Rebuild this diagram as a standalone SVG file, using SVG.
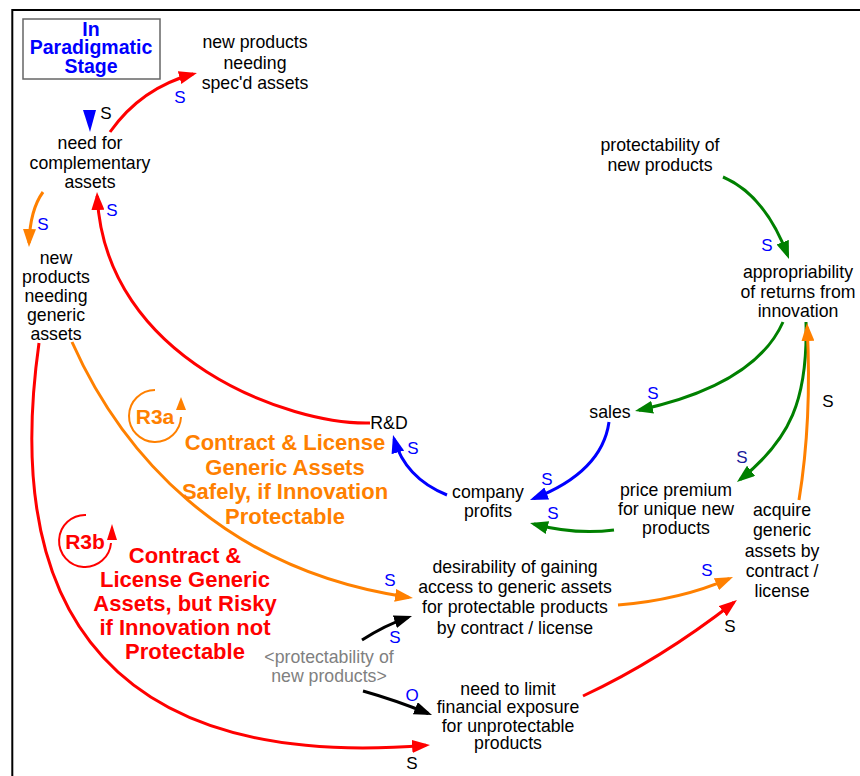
<svg xmlns="http://www.w3.org/2000/svg" width="860" height="776" viewBox="0 0 860 776">
  <style>
    text { font-family: "Liberation Sans", Arial, sans-serif; text-anchor: middle; }
    .lbl { font-size: 17.7px; fill: #000; }
    .ghost { font-size: 17.7px; fill: #808080; }
    .pol { font-size: 17px; }
    .blue { fill: #0000ff; }
    .blk { fill: #000; }
    .title { font-size: 19.5px; font-weight: bold; fill: #0000ff; }
    .loopname { font-size: 21px; font-weight: bold; }
    .loopdesc { font-size: 22px; font-weight: bold; }
    .c { fill: none; stroke-width: 3; }
    .red { stroke: #ff0000; }
    .org { stroke: #ff8000; }
    .grn { stroke: #008000; }
    .blu { stroke: #0000ff; }
    .bk { stroke: #000; }
  </style>
  <defs>
    <marker id="ah-red" viewBox="0 0 18 13" refX="14" refY="6.5" markerWidth="18" markerHeight="13" markerUnits="userSpaceOnUse" orient="auto"><path d="M0,0 L18,6.5 L0,13 z" fill="#ff0000"/></marker>
    <marker id="ah-org" viewBox="0 0 18 13" refX="14" refY="6.5" markerWidth="18" markerHeight="13" markerUnits="userSpaceOnUse" orient="auto"><path d="M0,0 L18,6.5 L0,13 z" fill="#ff8000"/></marker>
    <marker id="ah-grn" viewBox="0 0 18 13" refX="14" refY="6.5" markerWidth="18" markerHeight="13" markerUnits="userSpaceOnUse" orient="auto"><path d="M0,0 L18,6.5 L0,13 z" fill="#008000"/></marker>
    <marker id="ah-blu" viewBox="0 0 18 13" refX="14" refY="6.5" markerWidth="18" markerHeight="13" markerUnits="userSpaceOnUse" orient="auto"><path d="M0,0 L18,6.5 L0,13 z" fill="#0000ff"/></marker>
    <marker id="ah-bk" viewBox="0 0 18 13" refX="14" refY="6.5" markerWidth="18" markerHeight="13" markerUnits="userSpaceOnUse" orient="auto"><path d="M0,0 L18,6.5 L0,13 z" fill="#000"/></marker>
  </defs>

  <!-- view frame -->
  <path d="M12.3,776 V10 H860" fill="none" stroke="#000" stroke-width="2"/>

  <!-- stage caption -->
  <g id="stage">
    <rect x="23" y="19" width="137" height="60" fill="none" stroke="#666" stroke-width="1.5"/>
    <text class="title"><tspan x="91" y="35.5">In</tspan><tspan x="91" y="54">Paradigmatic</tspan><tspan x="91" y="72.5">Stage</tspan></text>
  </g>

  <!-- connectors -->
  <g id="links">
    <path class="c red" d="M110,132 Q141,88 193.1,74" marker-end="url(#ah-red)"/>
    <polygon points="83,110 96,110 90,132" fill="#0000ff"/>
    <path class="c org" d="M43,192 Q30,210 29.1,243" marker-end="url(#ah-org)"/>
    <path class="c red" d="M370,423 C290,425 105,360 97.2,196" marker-end="url(#ah-red)"/>
    <path class="c red" d="M39,343 C0,620 120,770 426,745.3" marker-end="url(#ah-red)"/>
    <path class="c org" d="M72,342 C120,450 220,570 409,597.4" marker-end="url(#ah-org)"/>
    <path class="c grn" d="M723,177 Q765,195 787.6,255.3" marker-end="url(#ah-grn)"/>
    <path class="c grn" d="M783,322 Q755,385 638.9,410.2" marker-end="url(#ah-grn)"/>
    <path class="c grn" d="M806,322 C808,400 790,440 740.1,479.5" marker-end="url(#ah-grn)"/>
    <path class="c org" d="M799,500 Q812,420 807.2,327" marker-end="url(#ah-org)"/>
    <path class="c blu" d="M609,422 Q602,472 533.7,498.6" marker-end="url(#ah-blu)"/>
    <path class="c grn" d="M614,530 Q575,535 533.9,524" marker-end="url(#ah-grn)"/>
    <path class="c blu" d="M447,495 Q405,478 394.1,438.9" marker-end="url(#ah-blu)"/>
    <path class="c org" d="M618,605 Q680,600 729.3,578.6" marker-end="url(#ah-org)"/>
    <path class="c red" d="M583,696 Q660,660 733.8,602.5" marker-end="url(#ah-red)"/>
    <path class="c bk" d="M362,640 Q385,625 408.2,617.3" marker-end="url(#ah-bk)"/>
    <path class="c bk" d="M363,691 Q395,700 428.3,713.5" marker-end="url(#ah-bk)"/>

    <!-- polarity marks -->
    <text class="pol blue" x="180" y="103">S</text>
    <text class="pol blk" x="106" y="119">S</text>
    <text class="pol blue" x="43" y="230">S</text>
    <text class="pol blue" x="112" y="216">S</text>
    <text class="pol blue" x="767" y="251">S</text>
    <text class="pol blue" x="653" y="399">S</text>
    <text class="pol" x="742" y="463" fill="#1a1a9a">S</text>
    <text class="pol blk" x="828" y="407">S</text>
    <text class="pol blue" x="547" y="485">S</text>
    <text class="pol blue" x="553" y="519">S</text>
    <text class="pol blue" x="413" y="454">S</text>
    <text class="pol blue" x="390" y="586">S</text>
    <text class="pol blue" x="395" y="643">S</text>
    <text class="pol blue" x="412" y="701">O</text>
    <text class="pol blue" x="707" y="576">S</text>
    <text class="pol blk" x="730" y="632">S</text>
    <text class="pol blk" x="412" y="769">S</text>
  </g>

  <!-- variables -->
  <g id="need-complementary">
    <text class="lbl"><tspan x="90" y="149">need for</tspan><tspan x="90" y="169">complementary</tspan><tspan x="90" y="188">assets</tspan></text>
  </g>
  <g id="new-specd">
    <text class="lbl"><tspan x="255" y="48">new products</tspan><tspan x="255" y="69">needing</tspan><tspan x="255" y="89">spec'd assets</tspan></text>
  </g>
  <g id="new-generic">
    <text class="lbl"><tspan x="56" y="264">new</tspan><tspan x="56" y="283">products</tspan><tspan x="56" y="302">needing</tspan><tspan x="56" y="321">generic</tspan><tspan x="56" y="340">assets</tspan></text>
  </g>
  <g id="protectability">
    <text class="lbl"><tspan x="660" y="151">protectability of</tspan><tspan x="660" y="171">new products</tspan></text>
  </g>
  <g id="appropriability">
    <text class="lbl"><tspan x="798" y="278">appropriability</tspan><tspan x="798" y="298">of returns from</tspan><tspan x="798" y="317">innovation</tspan></text>
  </g>
  <g id="sales">
    <text class="lbl" x="610" y="418">sales</text>
  </g>
  <g id="rnd">
    <text class="lbl" x="389" y="429">R&amp;D</text>
  </g>
  <g id="company-profits">
    <text class="lbl"><tspan x="488" y="498">company</tspan><tspan x="488" y="517">profits</tspan></text>
  </g>
  <g id="price-premium">
    <text class="lbl"><tspan x="676" y="496">price premium</tspan><tspan x="676" y="515">for unique new</tspan><tspan x="676" y="534">products</tspan></text>
  </g>
  <g id="acquire-generic">
    <text class="lbl"><tspan x="782" y="516">acquire</tspan><tspan x="782" y="536">generic</tspan><tspan x="782" y="557">assets by</tspan><tspan x="782" y="577">contract /</tspan><tspan x="782" y="597">license</tspan></text>
  </g>
  <g id="desirability">
    <text class="lbl"><tspan x="515" y="573">desirability of gaining</tspan><tspan x="515" y="593">access to generic assets</tspan><tspan x="515" y="613">for protectable products</tspan><tspan x="515" y="634">by contract / license</tspan></text>
  </g>
  <g id="protectability-shadow">
    <text class="ghost"><tspan x="329" y="663">&lt;protectability of</tspan><tspan x="329" y="682">new products&gt;</tspan></text>
  </g>
  <g id="limit-exposure">
    <text class="lbl"><tspan x="508" y="694.5">need to limit</tspan><tspan x="508" y="713">financial exposure</tspan><tspan x="508" y="731.5">for unprotectable</tspan><tspan x="508" y="749">products</tspan></text>
  </g>

  <!-- loop R3a -->
  <g id="loop-r3a">
    <path d="M155,390 A26,26 0 1,0 181,417" fill="none" stroke="#ff8000" stroke-width="2"/>
    <polygon points="176,410 186,410 181,397" fill="#ff8000"/>
    <text class="loopname" x="155" y="424" fill="#ff8000">R3a</text>
    <text class="loopdesc" fill="#ff8000"><tspan x="285" y="450">Contract &amp; License</tspan><tspan x="285" y="474.5">Generic Assets</tspan><tspan x="285" y="499">Safely, if Innovation</tspan><tspan x="285" y="523.5">Protectable</tspan></text>
  </g>

  <!-- loop R3b -->
  <g id="loop-r3b">
    <path d="M86,515 A26,26 0 1,0 111,543" fill="none" stroke="#ff0000" stroke-width="2"/>
    <polygon points="107,540 117,540 112,524" fill="#ff0000"/>
    <text class="loopname" x="85" y="549" fill="#ff0000">R3b</text>
    <text class="loopdesc" fill="#ff0000"><tspan x="185" y="563">Contract &amp;</tspan><tspan x="185" y="587">License Generic</tspan><tspan x="185" y="611">Assets, but Risky</tspan><tspan x="185" y="635">if Innovation not</tspan><tspan x="185" y="659">Protectable</tspan></text>
  </g>
</svg>
